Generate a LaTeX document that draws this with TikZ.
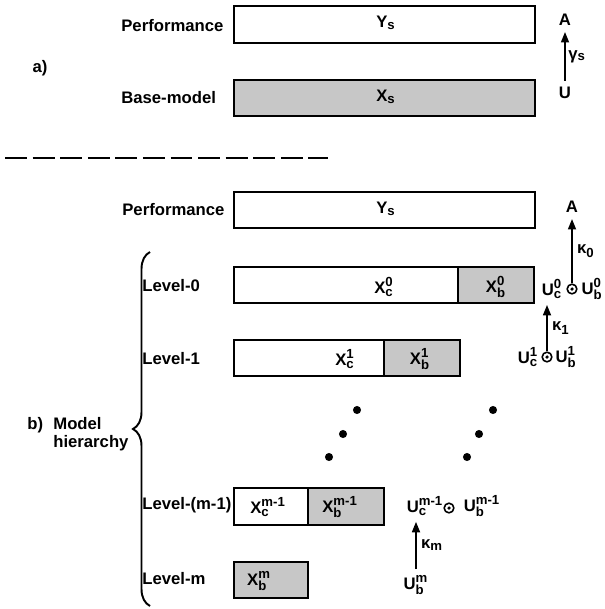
\documentclass[tikz,border=0pt]{standalone}
\usepackage{fontspec}
\setmainfont{Liberation Sans}
\usetikzlibrary{arrows.meta,decorations.pathreplacing}

% letter with subscript only / with sub- and superscript
\newcommand\lo[2]{#1$_{\mbox{\fontsize{7.5}{8}\selectfont #2}}$}
\newcommand\hl[3]{#1$^{\mbox{\fontsize{7.5}{8}\selectfont #3}}_{\mbox{\fontsize{7.5}{8}\selectfont #2}}$}

\tikzset{
  frame/.style={draw, line width=1.6pt},
  shaded/.style={fill=black!22},
  split/.style={draw, line width=0.7pt},
  lbl/.style={inner sep=0pt},
  arr/.style={line width=1.1pt, -{Triangle[length=6pt,width=4.5pt]}},
  dot/.style={circle, fill, inner sep=0pt, minimum size=4.6pt},
  opc/.style={circle, draw, line width=0.9pt, inner sep=0pt, minimum size=5.5pt,
    path picture={\fill (path picture bounding box.center) circle (1pt);}},
}

\begin{document}
\begin{tikzpicture}[x=0.02cm, y=-0.02cm, font=\bfseries\fontsize{9.5}{10.5}\selectfont]
\useasboundingbox (0,0) rectangle (605,609);

% a) base model
\node[lbl] (a) at (40,68) {a)};
\node[lbl, anchor=west] (perfa) at (121,26) {Performance};
\draw[frame] (234,6) rectangle (535,43);
\node (ysa) at (386,23) {\lo{Y}{s}};
\node[lbl, anchor=west] (basea) at (121,98) {Base-model};
\draw[frame, shaded] (234,80) rectangle (535,116);
\node (xsa) at (386,97) {\lo{X}{s}};
\node (ua) at (565,93) {U};
\node (aa) at (565,20) {A};
\draw[arr] (ua) -- (aa) node[midway, right, xshift=-2pt] {\lo{γ}{s}};

\draw[line width=1.1pt, dash pattern=on 12.5pt off 3.2pt] (5,158) -- (328,158);

% b) model hierarchy
\node[lbl, anchor=west] (perfb) at (122,210) {Performance};
\draw[frame] (234,192) rectangle (535,228);
\node (ysb) at (386,209) {\lo{Y}{s}};

\draw[line width=1.1pt, decorate, decoration={brace, amplitude=0.34cm}] (150,606) -- (150,252);
\node[lbl, anchor=west] (b) at (27,425) {b)};
\node[lbl, anchor=west, align=left] (mh) at (53,434) {Model\\hierarchy};

% level-0
\node[lbl, anchor=west] (lv0) at (142,286) {Level-0};
\fill[shaded] (458,267) rectangle (534,303);
\draw[split] (458,267) -- (458,303);
\draw[frame] (234,267) rectangle (534,303);
\node (xc0) at (384,287) {\hl{X}{c}{0}};
\node (xb0) at (496,287) {\hl{X}{b}{0}};

% level-1
\node[lbl, anchor=west] (lv1) at (142,359) {Level-1};
\fill[shaded] (384,340) rectangle (460,376);
\draw[split] (384,340) -- (384,376);
\draw[frame] (234,340) rectangle (460,376);
\node (xc1) at (345,359) {\hl{X}{c}{1}};
\node (xb1) at (420,359) {\hl{X}{b}{1}};

% dots
\node[dot] (d1) at (357,410) {};
\node[dot] (d2) at (343,434) {};
\node[dot] (d3) at (329,457) {};
\node[dot] (d4) at (493,410) {};
\node[dot] (d5) at (479,434) {};
\node[dot] (d6) at (467,457) {};

% level-(m-1)
\node[lbl, anchor=west] (lvm1) at (142,505) {Level-(m-1)};
\fill[shaded] (308,488) rectangle (384,525);
\draw[split] (308,488) -- (308,525);
\draw[frame] (234,488) rectangle (384,525);
\node (xcm1) at (268,507) {\hl{X}{c}{m-1}};
\node (xbm1) at (340,507) {\hl{X}{b}{m-1}};

% level-m
\node[lbl, anchor=west] (lvm) at (142,579) {Level-m};
\draw[frame, shaded] (234,562) rectangle (308,598);
\node (xbm) at (259,581) {\hl{X}{b}{m}};

% aggregation
\node (ab) at (572,207) {A};
\node (uc0) at (552,289) {\hl{U}{c}{0}};
\node[opc] (op0) at (572,289) {};
\node (ub0) at (592,289) {\hl{U}{b}{0}};
\draw[arr] (op0.north) -- (op0.north |- ab.south) node[midway, right, xshift=-1pt] {\lo{κ}{0}};

\node (uc1) at (528,357) {\hl{U}{c}{1}};
\node[opc] (op1) at (547,357) {};
\node (ub1) at (566,357) {\hl{U}{b}{1}};
\draw[arr] (op1.north) -- (op1.north |- uc0.south) node[midway, right, xshift=-1pt] {\lo{κ}{1}};

\node (ucm1) at (425,506) {\hl{U}{c}{m-1}};
\node[opc] (opm1) at (449,508) {};
\node (ubm1) at (482,506) {\hl{U}{b}{m-1}};
\node (ubm) at (416,585) {\hl{U}{b}{m}};
\draw[arr] (ubm.north) -- (ubm.north |- ucm1.south) node[midway, right, xshift=-1pt] {\lo{κ}{m}};
\end{tikzpicture}
\end{document}
